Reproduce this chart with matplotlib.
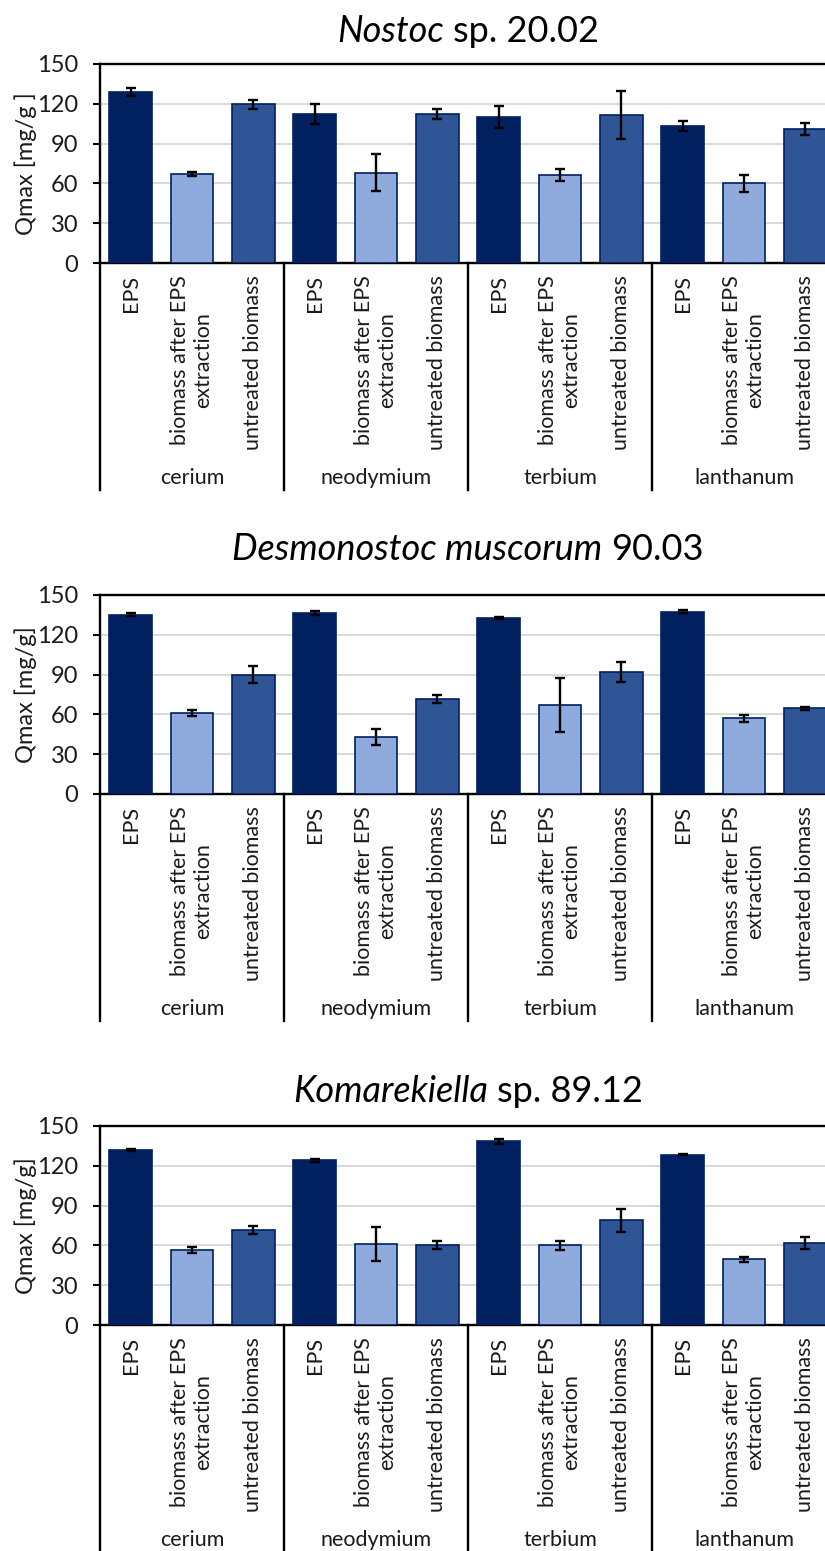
import numpy as np
import matplotlib
matplotlib.use("Agg")
import matplotlib.pyplot as plt
from matplotlib.lines import Line2D

plt.rcParams['font.family'] = ['Lato', 'DejaVu Sans']

# ---------------- data ----------------
categories = ["EPS", "biomass after EPS\nextraction", "untreated biomass"]
metals = ["cerium", "neodymium", "terbium", "lanthanum"]

titles = [
    [("Nostoc", "italic"), ("sp. 20.02", "normal")],
    [("Desmonostoc muscorum", "italic"), ("90.03", "normal")],
    [("Komarekiella", "italic"), ("sp. 89.12", "normal")],
]
ylabels = ["Qmax [mg/g ]", "Qmax [mg/g]", "Qmax [mg/g]"]

nostoc_vals = [129, 67, 119.5, 112.5, 68, 112.5, 110, 66.5, 111.5, 103.5, 60, 101]
nostoc_err = [2.9, 1.5, 3.4, 7.7, 13.8, 3.7, 8.6, 4.7, 17.8, 3.9, 6.5, 4.6]

desmo_vals = [135, 61, 90, 136.5, 43, 71.5, 132.5, 67, 92, 137.3, 57, 64.5]
desmo_err = [1.2, 2.5, 6.3, 1.4, 5.9, 2.8, 0.6, 20.5, 7.3, 1.2, 2.5, 1.2]

komar_vals = [132, 56.5, 71.7, 124, 61, 60, 138.5, 60, 79, 128.5, 49.5, 62]
komar_err = [0.8, 2.0, 3.3, 1.5, 12.6, 3.0, 2.0, 3.5, 8.6, 0.5, 1.7, 4.5]

panel_vals = [nostoc_vals, desmo_vals, komar_vals]
panel_errs = [nostoc_err, desmo_err, komar_err]

yticks = [0, 30, 60, 90, 120, 150]

# ---------------- style ----------------
W, H = 825, 1551
colors = ["#002060", "#8FAADC", "#2F5597"]
edge = "#002060"
txtc = "#1a1a1a"
fs = 15.5
fs_tick = 17
fs_ylab = 17
tsize = 26

fig = plt.figure(figsize=(W / 100, H / 100), dpi=100)

ax_tops = [64, 595, 1126]
ax_h = 199
ax_left, ax_w = 100, 736
title_base = [42, 560, 1102]
line_depth = 227
glabel_depth = 215


def px2fig(x, y):
    return x / W, 1 - y / H


for p in range(3):
    top = ax_tops[p]
    ax = fig.add_axes([ax_left / W, 1 - (top + ax_h) / H, ax_w / W, ax_h / H])
    vals = panel_vals[p]
    errs = panel_errs[p]
    n = len(vals)
    x = np.arange(n)
    bar_colors = [colors[i % 3] for i in range(n)]
    ax.bar(x, vals, width=0.7, color=bar_colors, edgecolor=edge, linewidth=1.2,
           yerr=errs, error_kw=dict(ecolor="black", elinewidth=1.7, capsize=3.8,
                                    capthick=1.7), zorder=3)
    ax.set_xlim(-0.5, n - 0.5)
    ax.set_ylim(0, 150)
    ax.set_yticks(yticks)
    ax.set_xticks([])
    ax.yaxis.grid(True, color="#D9D9D9", linewidth=1.4, zorder=0)
    ax.set_axisbelow(True)
    for s in ["left", "bottom", "top"]:
        ax.spines[s].set_color("black")
        ax.spines[s].set_linewidth(1.7)
    ax.spines["right"].set_visible(False)
    ax.tick_params(axis="y", direction="out", length=5, width=1.5, pad=10.5,
                   labelsize=fs_tick, labelcolor=txtc, color="black")

    # category labels
    for i in range(n):
        ax.annotate(categories[i % 3], xy=(x[i], 0), xycoords=("data", "axes fraction"),
                    xytext=(0, -12 * 0.72), textcoords="offset points",
                    rotation=90, ha="center", va="top", multialignment="center",
                    fontsize=fs, color=txtc)
    # group separator lines
    for g in range(len(metals) + 1):
        xs = g * 3 - 0.5
        ax.add_line(Line2D([xs, xs], [0, -line_depth / ax_h], color="black",
                           linewidth=1.7, clip_on=False,
                           transform=ax.get_xaxis_transform()))
    # group labels
    for g, m in enumerate(metals):
        ax.annotate(m, xy=(g * 3 + 1, 0), xycoords=("data", "axes fraction"),
                    xytext=(0, -glabel_depth * 0.72), textcoords="offset points",
                    ha="center", va="center", fontsize=fs, color=txtc)

    # y label
    fx, fy = px2fig(26, top + ax_h / 2)
    fig.text(fx, fy, ylabels[p], rotation=90, ha="center", va="center",
             fontsize=fs_ylab, color=txtc)

# titles with italic + normal parts, centered over the axes
fig.canvas.draw()
renderer = fig.canvas.get_renderer()
ta = fig.text(0, 0, "x x", fontsize=tsize)
tb = fig.text(0, 0, "xx", fontsize=tsize)
space_w = ta.get_window_extent(renderer).width - tb.get_window_extent(renderer).width
ta.remove()
tb.remove()
xc = ax_left + ax_w / 2
for p in range(3):
    parts = titles[p]
    yb = 1 - title_base[p] / H
    objs = [fig.text(0, yb, s, fontstyle=st, fontsize=tsize, va="baseline",
                     ha="left", color="black") for s, st in parts]
    ws = [o.get_window_extent(renderer).width for o in objs]
    total = sum(ws) + space_w * (len(objs) - 1)
    xpos = xc - total / 2
    for o, w in zip(objs, ws):
        o.set_x(xpos / W)
        xpos += w + space_w

fig.savefig("out.png", dpi=100)
